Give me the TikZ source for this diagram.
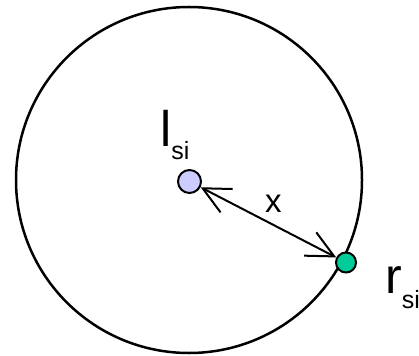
\documentclass[tikz,border=0pt]{standalone}
\usepackage{fontspec}
\setmainfont{Liberation Sans}
\usetikzlibrary{arrows.meta}
\definecolor{lavender}{RGB}{204,204,255}
\definecolor{seagreen}{RGB}{0,204,153}
\begin{document}
\begin{tikzpicture}[x=1pt,y=-1pt,>={Straight Barb[angle=52:30pt]},
    dot/.style={circle,draw=black,line width=2pt,inner sep=0pt},
    lbl/.style={anchor=base west,inner sep=0pt,font=\fontsize{50}{50}\selectfont}]
    \useasboundingbox (0,0) rectangle (419,355);
    \draw [line width=2.5pt] (189,180) circle (173pt);
    \node [dot,fill=lavender,minimum size=23pt] (lsi) at (189.5,181.5) {};
    \node [dot,fill=seagreen,minimum size=20pt] (rsi) at (346,262.5) {};
    \draw [<->,line width=2pt] (lsi) -- (rsi);
    \node [lbl] (lsitext) at (160,147) {l\raisebox{-13pt}{\fontsize{25}{25}\selectfont si}};
    \node [lbl] (rsitext) at (385,293) {r\raisebox{-15pt}{\fontsize{25}{25}\selectfont si}};
    \node [lbl,font=\fontsize{33}{33}\selectfont] (dist) at (265,212) {x};
\end{tikzpicture}
\end{document}
